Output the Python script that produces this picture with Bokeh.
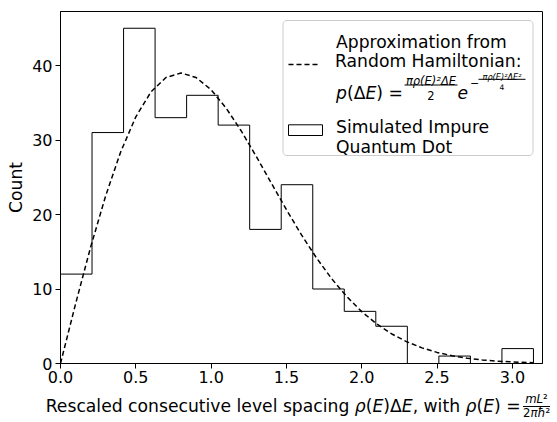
import numpy as np
from bokeh.plotting import figure
from bokeh.models import Label, FixedTicker, PrintfTickFormatter, Range1d, Div
from bokeh.layouts import column
from bokeh.embed import file_html
from bokeh.resources import INLINE

# ---------------- data ----------------
bin_edges = [0.0, 0.2093, 0.4187, 0.6280, 0.8373, 1.0467, 1.2560, 1.4653,
             1.6747, 1.8840, 2.0933, 2.3027, 2.5120, 2.7213, 2.9307, 3.1400]
counts = [12, 31, 45, 33, 36, 32, 18, 24, 10, 7, 5, 0, 1, 0, 2]

curve_x = [0.0, 0.1, 0.2, 0.3, 0.4, 0.5, 0.6, 0.7, 0.8, 0.9, 1.0, 1.1, 1.2,
           1.3, 1.4, 1.5, 1.6, 1.7, 1.8, 1.9, 2.0, 2.1, 2.2, 2.3, 2.4, 2.5,
           2.6, 2.7, 2.8, 2.9, 3.0, 3.1, 3.14]
curve_y = [0.0, 8.0, 15.62, 22.52, 28.43, 33.11, 36.44, 38.39, 39.0, 38.39,
           36.74, 34.27, 31.21, 27.78, 24.2, 20.65, 17.26, 14.16, 11.39, 8.99,
           6.96, 5.3, 3.96, 2.91, 2.1, 1.49, 1.04, 0.71, 0.48, 0.32, 0.21,
           0.13, 0.11]

x_ticks = [0.0, 0.5, 1.0, 1.5, 2.0, 2.5, 3.0]
y_ticks = [0, 10, 20, 30, 40]
y_label = "Count"
legend_curve_lines = ["Approximation from", "Random Hamiltonian:"]
legend_hist_lines = ["Simulated Impure", "Quantum Dot"]

# ---------------- layout ----------------
FIG_W, FIG_H = 557, 390
DIV_H = 32
FR_L, FR_R, FR_T, FR_B = 60, 542, 11, 363
X_MAX, Y_MAX = 3.2, 47.25


def X(px):
    return (px - FR_L) / (FR_R - FR_L) * X_MAX


def Y(py):
    return (FR_B - py) / (FR_B - FR_T) * Y_MAX


FONT = "DejaVu Sans"
ADV = {' ': 651, ',': 651, '(': 799, ')': 799, '=': 1716, 'Δ': 1401,
       'ρ': 1300, 'E': 1294, 'p': 1300}


def adv(s, size):
    return sum(ADV.get(ch, 1230) for ch in s) / 2048.0 * size


p = figure(width=FIG_W, height=FIG_H, x_range=Range1d(0, X_MAX),
           y_range=Range1d(0, Y_MAX), output_backend="svg",
           toolbar_location=None, min_border_left=FR_L,
           min_border_right=FIG_W - FR_R, min_border_top=FR_T,
           min_border_bottom=FIG_H - FR_B)
p.background_fill_color = "white"
p.border_fill_color = "white"
p.outline_line_color = "black"
p.outline_line_width = 1
p.xgrid.visible = False
p.ygrid.visible = False

p.xaxis.ticker = FixedTicker(ticks=x_ticks)
p.xaxis.formatter = PrintfTickFormatter(format="%.1f")
p.yaxis.ticker = FixedTicker(ticks=y_ticks)
for ax in (p.xaxis, p.yaxis):
    ax.minor_tick_line_color = None
    ax.major_tick_out = 5
    ax.major_tick_in = 0
    ax.major_tick_line_color = "black"
    ax.axis_line_color = "black"
    ax.major_label_text_font = FONT
    ax.major_label_text_font_size = "16px"
    ax.major_label_text_color = "black"
p.xaxis.major_label_standoff = 2
p.yaxis.major_label_standoff = 3
p.yaxis.axis_label = y_label
p.yaxis.axis_label_text_font = FONT
p.yaxis.axis_label_text_font_size = "17.2px"
p.yaxis.axis_label_text_font_style = "normal"
p.yaxis.axis_label_text_color = "black"
p.yaxis.axis_label_standoff = 3

# ---------------- histogram (step outline) ----------------
edges = np.asarray(bin_edges)
cnt = np.asarray(counts, dtype=float)
step_x = np.repeat(edges, 2)
step_y = np.concatenate([[0.0], np.repeat(cnt, 2), [0.0]])
p.line(step_x, step_y, line_color="black", line_width=1)

# ---------------- theoretical curve ----------------
p.line(curve_x, curve_y, line_color="black", line_width=1.5, line_dash="5 3")


# ---------------- text helpers ----------------
def txt(px, py, s, size, style="normal", align="left"):
    p.add_layout(Label(x=X(px), y=Y(py), text=s, text_font=FONT,
                       text_font_size=f"{size}px", text_font_style=style,
                       text_align=align, text_baseline="alphabetic",
                       text_color="black"))


def seq(px, py, parts, size):
    for s, style in parts:
        if s.strip():
            txt(px, py, s, size, style)
        px += adv(s, size)
    return px


def rounded_box(l, r, t, b, rad):
    xs, ys = [], []
    corners = [(r - rad, t + rad, -90, 0), (r - rad, b - rad, 0, 90),
               (l + rad, b - rad, 90, 180), (l + rad, t + rad, 180, 270)]
    for cx, cy, a0, a1 in corners:
        for a in np.linspace(np.radians(a0), np.radians(a1), 6):
            xs.append(X(cx + rad * np.cos(a)))
            ys.append(Y(cy + rad * np.sin(a)))
    return xs, ys


LBL = 17.2

# ---------------- legend ----------------
bx, by = rounded_box(282.5, 532.5, 20, 155, 4)
p.patch(bx, by, fill_color="white", fill_alpha=0.8, line_color="#cccccc",
        line_width=1)
p.line([X(288), X(320)], [Y(64), Y(64)], line_color="black",
       line_width=1.5, line_dash="5 3")
p.quad(left=X(288), right=X(322), top=Y(124.3), bottom=Y(135),
       fill_color="white", line_color="black", line_width=1)
p.segment(x0=[X(404), X(478)], y0=[Y(84.5), Y(78.8)],
          x1=[X(457), X(525)], y1=[Y(84.5), Y(78.8)],
          line_color="black", line_width=1)

txt(335.5, 41.7, legend_curve_lines[0], LBL)
txt(334.5, 60.7, legend_curve_lines[1], LBL)
seq(335.5, 92, [("p", "italic"), ("(", "normal"), ("Δ", "normal"),
                ("E", "italic"), (")", "normal"), (" ", "normal"),
                ("=", "normal")], LBL)
txt(430.5, 80.6, "πρ(E)²ΔE", 11.5, "italic", align="center")
txt(430.5, 95, "2", 11.5, align="center")
txt(457, 92, "e", LBL, "italic")
txt(469.5, 82, "−", 11, align="left")
txt(501.5, 76.2, "πρ(E)²ΔE²", 8.2, "italic", align="center")
txt(501.5, 86.5, "4", 7.5, align="center")

txt(335.5, 126.3, legend_hist_lines[0], LBL)
txt(335.5, 146.5, legend_hist_lines[1], LBL)

# ---------------- x axis label (HTML text below the plot) ----------------
A = 0.846  # baseline offset (em) for line-height 1 in DejaVu Sans
base = 412.5 - FIG_H
num_base = 404 - FIG_H
den_base = 418 - FIG_H
fs_small = 11.7
xlabel_html = (
    f'<div style="position:relative;width:{FIG_W}px;height:{DIV_H}px;'
    f'font-family:\'DejaVu Sans\';color:black;line-height:1;">'
    f'<span style="position:absolute;left:45.7px;top:{base - A * LBL:.2f}px;'
    f'font-size:{LBL}px;white-space:nowrap;">'
    'Rescaled consecutive level spacing <i>ρ</i>(<i>E</i>)Δ<i>E</i>, '
    'with <i>ρ</i>(<i>E</i>) =</span>'
    f'<span style="position:absolute;left:523px;width:27px;text-align:center;'
    f'top:{num_base - A * fs_small:.2f}px;font-size:{fs_small}px;'
    'white-space:nowrap;"><i>mL</i>²</span>'
    f'<div style="position:absolute;left:523px;width:27px;height:0;'
    f'top:{406.5 - FIG_H - 0.5}px;border-top:1px solid black;"></div>'
    f'<span style="position:absolute;left:523px;width:27px;text-align:center;'
    f'top:{den_base - A * fs_small:.2f}px;font-size:{fs_small}px;'
    'white-space:nowrap;">2<i>πħ</i>²</span>'
    '</div>'
)
xlabel_div = Div(text=xlabel_html, width=FIG_W, height=DIV_H, margin=0)

layout = column(p, xlabel_div, spacing=0)
open("out.html", "w").write(file_html(layout, INLINE))
